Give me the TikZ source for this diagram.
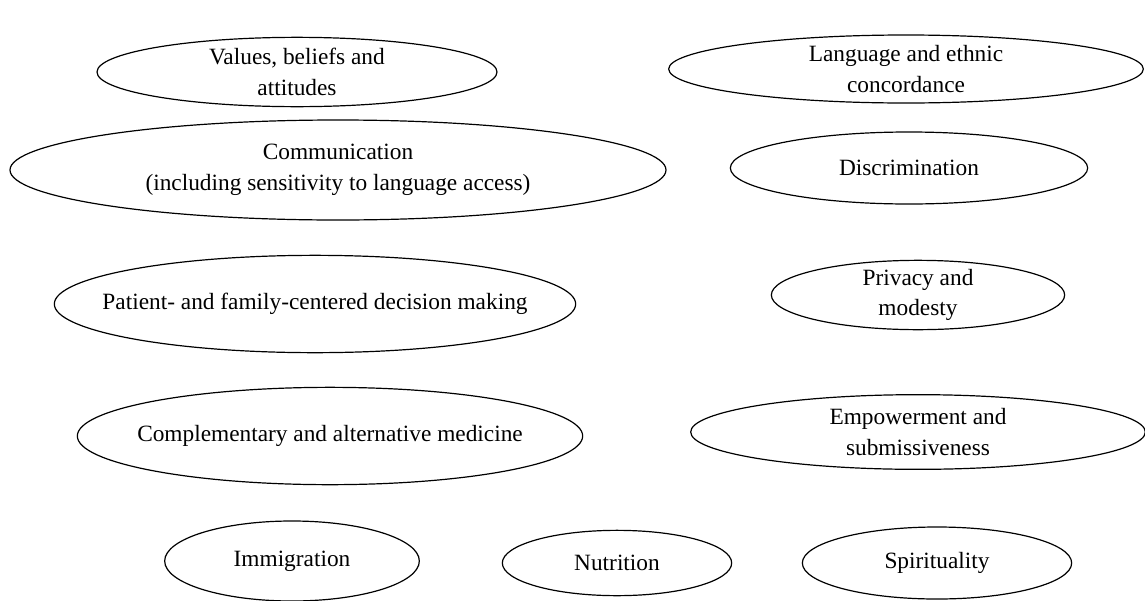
\documentclass[tikz,border=0pt]{standalone}
\usepackage{fontspec}
\setmainfont{Liberation Serif}
\usetikzlibrary{shapes.geometric}

\tikzset{
  topic/.style={draw,ellipse,inner sep=-30pt,align=center,line width=0.9pt,
    font=\fontsize{17.5}{23}\selectfont}
}

\begin{document}
\begin{tikzpicture}[x=0.75pt,y=-0.75pt]

\useasboundingbox (0,0) rectangle (1145,600);

\node [topic,minimum width=300pt,minimum height=52pt] at (297,72) (values) {Values, beliefs and\\attitudes};
\node [topic,minimum width=356pt,minimum height=51pt] at (906,69) (language) {Language and ethnic\\concordance};

\node [topic,minimum width=492pt,minimum height=75pt] at (338,170) (communication) {Communication\\(including sensitivity to language access)};
\node [topic,minimum width=268pt,minimum height=54pt] at (909,168) (discrimination) {Discrimination};

\node [topic,minimum width=391pt,minimum height=73pt] at (315,304) (patient) {Patient- and family-centered decision making};
\node [topic,minimum width=220pt,minimum height=52pt] at (918,295) (privacy) {Privacy and\\modesty};

\node [topic,minimum width=379pt,minimum height=73pt] at (330,436) (complementary) {Complementary and alternative medicine};
\node [topic,minimum width=341pt,minimum height=56pt] at (918,432) (empowerment) {Empowerment and\\submissiveness};

\node [topic,minimum width=191pt,minimum height=60pt] at (292,561) (immigration) {Immigration};
\node [topic,minimum width=172pt,minimum height=49pt] at (617,563) (nutrition) {Nutrition};
\node [topic,minimum width=202pt,minimum height=54pt] at (937,563) (spirituality) {Spirituality};

\end{tikzpicture}
\end{document}
